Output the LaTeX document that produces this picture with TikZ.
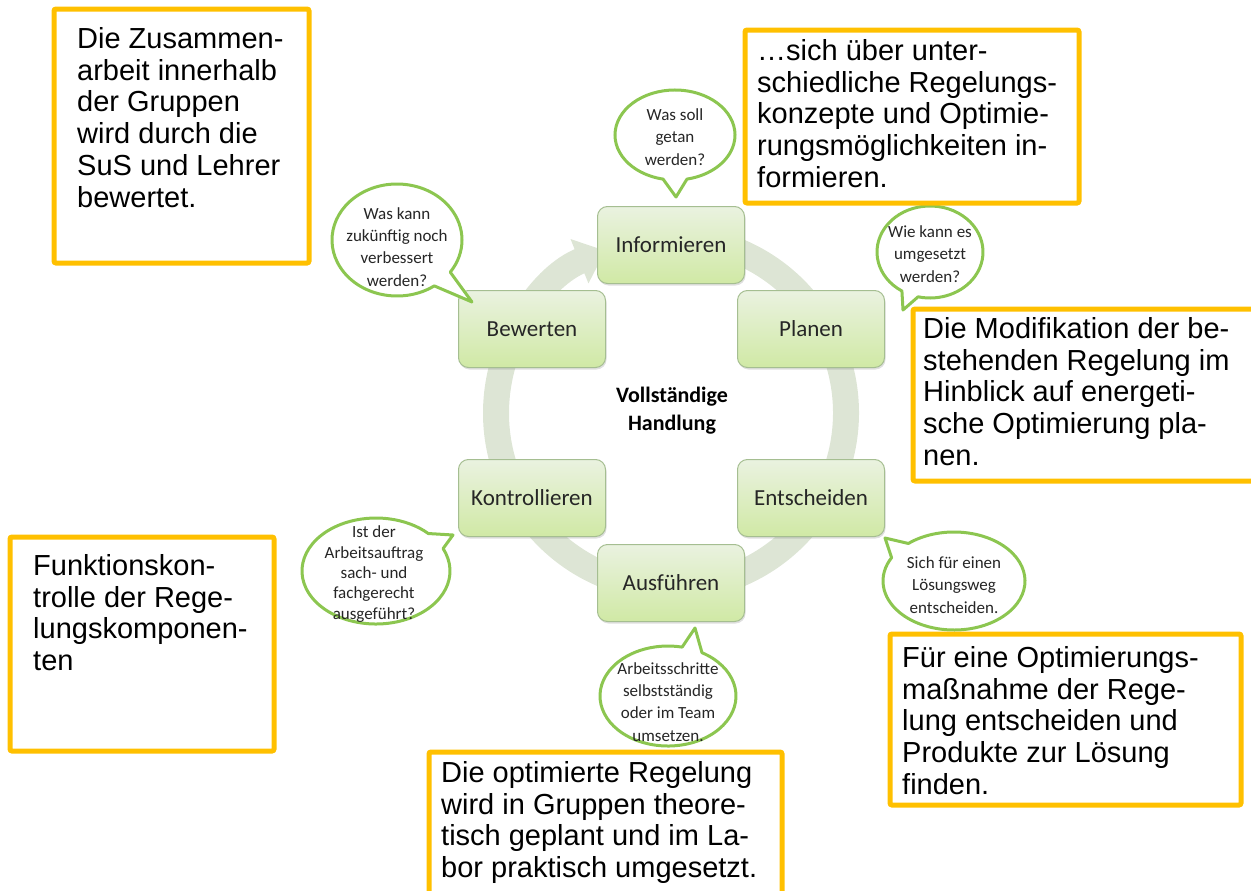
\documentclass[tikz,border=0pt]{standalone}
\usepackage{fontspec}
\setmainfont{Liberation Sans}
\newfontfamily\calibri{Carlito}
\usetikzlibrary{arrows.meta, shadows}

\definecolor{orangerand}{RGB}{255,192,0}
\definecolor{blasengruen}{RGB}{140,198,80}
\definecolor{kastenrand}{RGB}{165,190,145}
\definecolor{kastenoben}{RGB}{234,242,224}
\definecolor{kastenunten}{RGB}{208,233,165}
\definecolor{ringfarbe}{RGB}{221,229,213}
\definecolor{schrift}{RGB}{38,38,38}

\tikzset{
  auftrag/.style={draw=orangerand, line width=5bp, rounded corners=2bp},
  auftragtext/.style={anchor=north west, align=left, inner sep=0pt,
    font=\fontsize{29bp}{31.8bp}\selectfont},
  phase/.style={draw=kastenrand, line width=1bp, rounded corners=10bp,
    top color=kastenoben, bottom color=kastenunten,
    minimum width=147bp, minimum height=77bp, text=schrift,
    font=\calibri\fontsize{23bp}{27bp}\selectfont,
    drop shadow={shadow xshift=1bp, shadow yshift=-2bp, opacity=0.25}},
  blase/.style={draw=blasengruen, line width=3bp, fill=white, line join=round},
  blasentext/.style={align=center, inner sep=0pt, text=schrift,
    font=\calibri\fontsize{17bp}{22.3bp}\selectfont},
}

\begin{document}
\begin{tikzpicture}[x=1bp, y=-1bp]
  \useasboundingbox (0,0) rectangle (1251,891);

  % Kreispfeil
  \draw[ringfarbe, line width=26bp, -{Triangle[width=46bp, length=28bp]}]
    (671,413) ++(-85:175) arc[start angle=-85, end angle=248, radius=175];

  % Phasen der Handlung
  \node[phase] (informieren) at (671,245) {Informieren};
  \node[phase] (planen) at (811,329) {Planen};
  \node[phase] (entscheiden) at (811,498) {Entscheiden};
  \node[phase] (ausfuehren) at (671,583) {Ausführen};
  \node[phase] (kontrollieren) at (532,498) {Kontrollieren};
  \node[phase] (bewerten) at (532,329) {Bewerten};
  \node[font=\calibri\bfseries\fontsize{22bp}{28bp}\selectfont, align=center]
    (handlung) at (672,411) {Vollständige\\Handlung};

  % Sprechblasen
  \draw[blase] (675,135) ++(101.5:60 and 45)
    arc[start angle=101.5, end angle=438.5, x radius=60, y radius=45] -- (676,197) -- cycle;
  \node[blasentext] (soll) at (675,137) {Was soll\\getan\\werden?};

  \draw[blase] (930,252) ++(122:53 and 46)
    arc[start angle=122, end angle=463, x radius=53, y radius=46] -- (903,310) -- cycle;
  \node[blasentext] (umsetzen) at (930,254) {Wie kann es\\umgesetzt\\werden?};

  \draw[blase] (954,581) ++(230:71 and 49)
    arc[start angle=230, end angle=568.5, x radius=71, y radius=49] -- (885,538) -- cycle;
  \node[blasentext] (loesungsweg) at (954,585) {Sich für einen\\Lösungsweg\\entscheiden.};

  \draw[blase] (668,696) ++(-60:68 and 50)
    arc[start angle=-60, end angle=282, x radius=68, y radius=50] -- (695,628) -- cycle;
  \node[blasentext] (schritte) at (668,702) {Arbeitsschritte\\selbstständig\\oder im Team\\umsetzen.};

  \draw[blase] (376,571) ++(-25:74 and 53)
    arc[start angle=-25, end angle=315, x radius=74, y radius=53] -- (453,535) -- cycle;
  \node[blasentext, font=\calibri\fontsize{17bp}{20.3bp}\selectfont]
    (auftrag) at (374,574) {Ist der\\Arbeitsauftrag\\sach- und\\fachgerecht\\ausgeführt?};

  \draw[blase] (397,240) ++(55:65 and 56)
    arc[start angle=55, end angle=395, x radius=65, y radius=56] -- (472,302) -- cycle;
  \node[blasentext] (verbessern) at (397,247) {Was kann\\zukünftig noch\\verbessert\\werden?};

  % Aufgabenkaesten
  \draw[auftrag] (54,9) rectangle (309,263);
  \node[auftragtext] (zusammenarbeit) at (77,27)
    {Die Zusammen-\\arbeit innerhalb\\der Gruppen\\wird durch die\\SuS und Lehrer\\bewertet.};

  \draw[auftrag] (745,30) rectangle (1079,203);
  \node[auftragtext] (konzepte) at (757,39)
    {…sich über unter-\\schiedliche Regelungs-\\konzepte und Optimie-\\rungsmöglichkeiten in-\\formieren.};

  \draw[auftrag] (913,309) rectangle (1258,481);
  \node[auftragtext] (modifikation) at (923,317)
    {Die Modifikation der be-\\stehenden Regelung im\\Hinblick auf energeti-\\sche Optimierung pla-\\nen.};

  \draw[auftrag] (890,634) rectangle (1241,805);
  \node[auftragtext] (massnahme) at (902,646)
    {Für eine Optimierungs-\\maßnahme der Rege-\\lung entscheiden und\\Produkte zur Lösung\\finden.};

  \draw[auftrag] (429,752) rectangle (782,896);
  \node[auftragtext] (umsetzung) at (441,761)
    {Die optimierte Regelung\\wird in Gruppen theore-\\tisch geplant und im La-\\bor praktisch umgesetzt.};

  \draw[auftrag] (10,537) rectangle (274,751);
  \node[auftragtext] (funktion) at (33,554)
    {Funktionskon-\\trolle der Rege-\\lungskomponen-\\ten};
\end{tikzpicture}
\end{document}
